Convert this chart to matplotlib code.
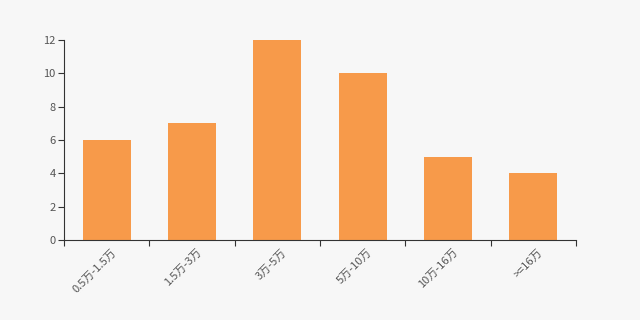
import matplotlib
matplotlib.use('Agg')
import matplotlib.pyplot as plt
import numpy as np

plt.rcParams['font.family'] = ['Noto Sans CJK SC', 'DejaVu Sans']

categories = ['0.5万-1.5万', '1.5万-3万', '3万-5万', '5万-10万', '10万-16万', '>=16万']
counts = [6, 7, 12, 10, 5, 4]
y_ticks = [0, 2, 4, 6, 8, 10, 12]

bg = '#f7f7f7'
bar_color = '#f79a4a'
axis_color = '#333333'
text_color = '#555555'

fig = plt.figure(figsize=(6.4, 3.2), dpi=100, facecolor=bg)
ax = fig.add_axes([64 / 640, 80 / 320, 512 / 640, 200 / 320], facecolor=bg)

x = np.arange(len(categories))
ax.bar(x, counts, width=0.56, color=bar_color, zorder=2)

ax.set_xlim(-0.5, len(categories) - 0.5)
ax.set_ylim(0, 12)
ax.set_yticks(y_ticks)
ax.set_yticklabels([str(v) for v in y_ticks], fontsize=8, color=text_color)

# ticks on category boundaries, labels near centres
ax.set_xticks(np.arange(len(categories) + 1) - 0.5)
ax.set_xticklabels([])
ax.set_xticks(x + 0.05, minor=True)
ax.set_xticklabels(categories, minor=True, rotation=45, ha='right',
                   rotation_mode='anchor', fontsize=8, color=text_color)
ax.tick_params(axis='x', which='minor', length=0, pad=5)
ax.tick_params(axis='x', which='major', length=4, color=axis_color, width=0.8)
ax.tick_params(axis='y', length=4, color=axis_color, width=0.8, pad=2)

for side in ['top', 'right']:
    ax.spines[side].set_visible(False)
for side in ['left', 'bottom']:
    ax.spines[side].set_color(axis_color)
    ax.spines[side].set_linewidth(0.8)

fig.savefig('out.png', dpi=100, facecolor=bg)
